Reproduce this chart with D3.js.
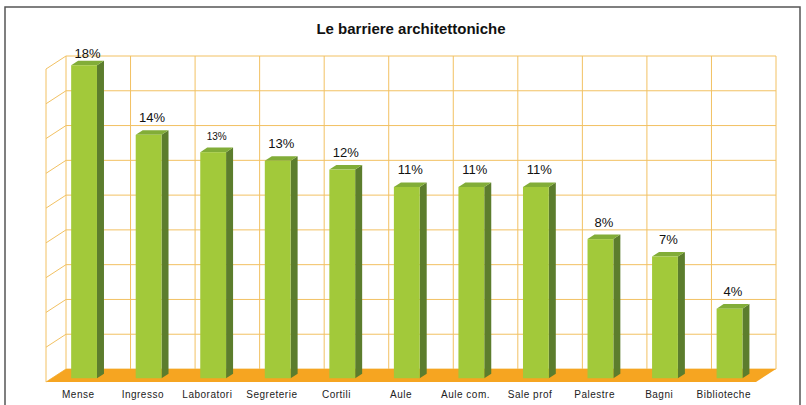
<!DOCTYPE html>
<html>
<head>
<meta charset="utf-8">
<script src="https://cdn.jsdelivr.net/npm/d3@7/dist/d3.min.js"></script>
<style>
  body { margin: 0; background: #fff; }
  text { font-family: "Liberation Sans", Arial, sans-serif; }
</style>
</head>
<body>
<div id="chart"></div>
<script>
var categories = ["Mense", "Ingresso", "Laboratori", "Segreterie", "Cortili", "Aule", "Aule com.", "Sale prof", "Palestre", "Bagni", "Biblioteche"];
var values = [18, 14, 13, 12.5, 12, 11, 11, 11, 8, 7, 4];
var valueLabels = ["18%", "14%", "13%", "13%", "12%", "11%", "11%", "11%", "8%", "7%", "4%"];
var yTicks = [0, 2, 4, 6, 8, 10, 12, 14, 16, 18];

function init(){
    var w = 806;
    var h = 405;

    // 3d box: front plane and depth offset
    var left = 46, right = 756, bottom = 382;
    var dx = 20, dy = 13;
    var plotH = 313;
    var barStart = 0.29, barDepth = 0.35;

    var svg = d3.select("#chart")
                .append("svg")
                .attr("width", w)
                .attr("height", h);

    // outer frame
    svg.append("rect")
       .attr("x", 5).attr("y", 7)
       .attr("width", 795).attr("height", 420)
       .attr("fill", "#fff")
       .attr("stroke", "#555")
       .attr("stroke-width", 1.5);

    svg.append("text")
       .attr("x", 411).attr("y", 34)
       .attr("text-anchor", "middle")
       .style("font-size", "15px")
       .style("font-weight", "bold")
       .attr("fill", "#111")
       .text("Le barriere architettoniche");

    var x = d3.scaleBand()
              .domain(categories)
              .range([left, right])
              .padding(0);

    var y = d3.scaleLinear()
              .domain([0, 18])
              .range([0, plotH]);

    var grid = "#f2c162";

    // back wall
    var back = svg.append("g").attr("transform", "translate(" + dx + "," + (-dy) + ")");
    back.selectAll("line.h")
        .data(yTicks)
        .enter()
        .append("line")
        .attr("x1", left).attr("x2", right)
        .attr("y1", function(d){ return bottom - y(d); })
        .attr("y2", function(d){ return bottom - y(d); })
        .attr("stroke", grid);
    back.selectAll("line.v")
        .data(categories.concat(["end"]))
        .enter()
        .append("line")
        .attr("x1", function(d){ return d === "end" ? right : x(d); })
        .attr("x2", function(d){ return d === "end" ? right : x(d); })
        .attr("y1", bottom - y(18)).attr("y2", bottom)
        .attr("stroke", grid);

    // left wall
    svg.selectAll("line.side")
       .data(yTicks)
       .enter()
       .append("line")
       .attr("x1", left).attr("x2", left + dx)
       .attr("y1", function(d){ return bottom - y(d); })
       .attr("y2", function(d){ return bottom - y(d) - dy; })
       .attr("stroke", grid);
    svg.append("line")
       .attr("x1", left).attr("x2", left)
       .attr("y1", bottom - y(18)).attr("y2", bottom)
       .attr("stroke", grid);

    // floor
    svg.append("path")
       .attr("d", "M" + left + "," + bottom + "L" + (left + dx) + "," + (bottom - dy) +
                  "L" + (right + dx) + "," + (bottom - dy) + "L" + right + "," + bottom + "Z")
       .attr("fill", "#f6a521");

    // bars
    var bw = x.bandwidth() * 0.4;
    var ox = dx * barStart, oy = dy * barStart;
    var bdx = dx * barDepth, bdy = dy * barDepth;

    var bars = svg.selectAll("g.bar")
                  .data(values)
                  .enter()
                  .append("g")
                  .attr("class", "bar")
                  .attr("transform", function(d, i){
                      var cx = x(categories[i]) + x.bandwidth() / 2 + ox;
                      return "translate(" + (cx - bw / 2) + "," + (bottom - oy) + ")";
                  });

    bars.append("path")
        .attr("fill", "#5c7d2d")
        .attr("d", function(d){
            var t = -y(d);
            return "M" + bw + ",0L" + (bw + bdx) + "," + (-bdy) + "L" + (bw + bdx) + "," + (t - bdy) +
                   "L" + bw + "," + t + "Z";
        });
    bars.append("path")
        .attr("fill", "#82ad38")
        .attr("d", function(d){
            var t = -y(d);
            return "M0," + t + "L" + bdx + "," + (t - bdy) + "L" + (bw + bdx) + "," + (t - bdy) +
                   "L" + bw + "," + t + "Z";
        });
    bars.append("rect")
        .attr("x", 0)
        .attr("y", function(d){ return -y(d); })
        .attr("width", bw)
        .attr("height", function(d){ return y(d); })
        .attr("fill", "#a2c93a");

    bars.append("text")
        .attr("x", (bw + bdx) / 2)
        .attr("y", function(d, i){ return -y(d) - bdy - (i === 0 ? 3 : 8); })
        .attr("text-anchor", "middle")
        .style("font-size", function(d, i){ return i === 2 ? "10px" : "13px"; })
        .attr("fill", "#111")
        .text(function(d, i){ return valueLabels[i]; });

    // category labels
    svg.selectAll("text.cat")
       .data(categories)
       .enter()
       .append("text")
       .attr("class", "cat")
       .attr("x", function(d){ return x(d) + x.bandwidth() / 2; })
       .attr("y", 398)
       .attr("text-anchor", "middle")
       .style("font-size", "10px")
       .style("letter-spacing", "0.5px")
       .attr("fill", "#222")
       .text(function(d){ return d; });
}
window.onload = init;
</script>
</body>
</html>
